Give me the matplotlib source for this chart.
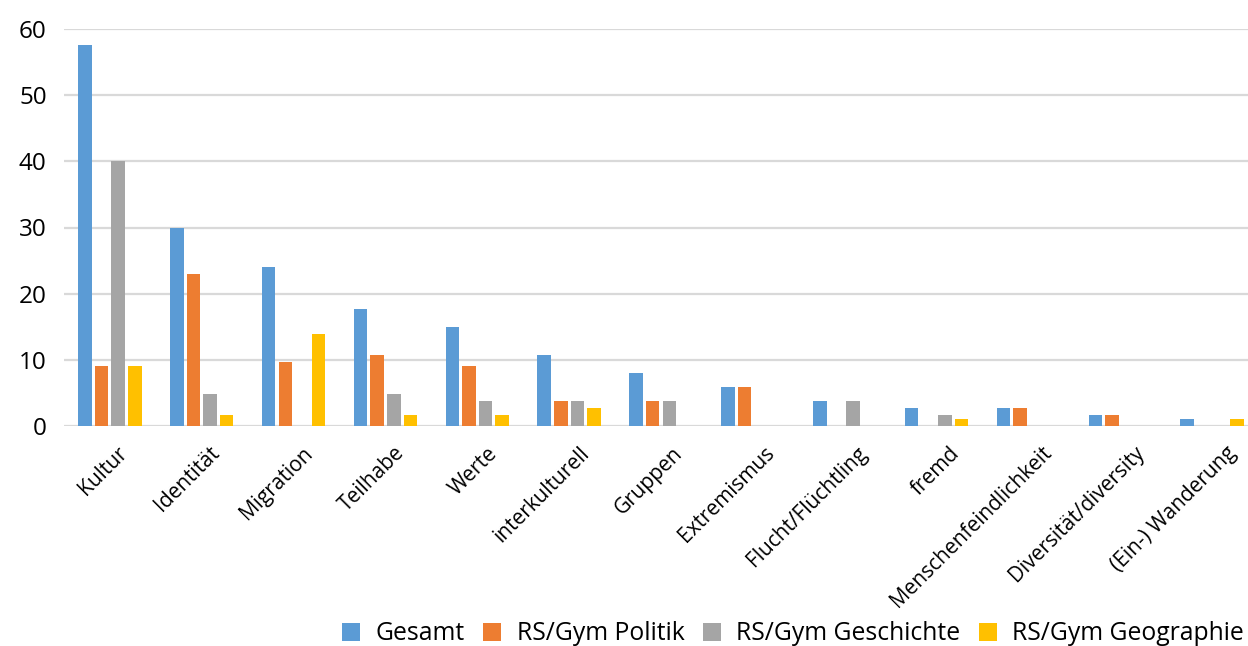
import matplotlib
matplotlib.use("Agg")
import matplotlib.pyplot as plt
import matplotlib.transforms as mtransforms
import numpy as np

plt.rcParams['font.family'] = ['Open Sans', 'DejaVu Sans']

categories = ["Kultur", "Identität", "Migration", "Teilhabe", "Werte", "interkulturell",
              "Gruppen", "Extremismus", "Flucht/Flüchtling", "fremd",
              "Menschenfeindlichkeit", "Diversität/diversity", "(Ein-) Wanderung"]
series_names = ["Gesamt", "RS/Gym Politik", "RS/Gym Geschichte", "RS/Gym Geographie"]
gesamt     = [57.6, 29.9, 24.0, 17.7, 15.0, 10.7, 8.0, 5.9, 3.8, 2.7, 2.7, 1.7, 1.1]
politik    = [9.1, 23.0, 9.7, 10.7, 9.1, 3.8, 3.8, 5.9, 0, 0, 2.7, 1.7, 0]
geschichte = [40.0, 4.8, 0, 4.8, 3.8, 3.8, 3.8, 0, 3.8, 1.7, 0, 0, 0]
geographie = [9.1, 1.7, 13.9, 1.7, 1.7, 2.7, 0, 0, 0, 1.1, 0, 0, 1.1]
yticks = [0, 10, 20, 30, 40, 50, 60]

colors = ["#5B9BD5", "#ED7D31", "#A5A5A5", "#FFC000"]
data = [gesamt, politik, geschichte, geographie]

W, H = 1248, 646
fig = plt.figure(figsize=(W / 100, H / 100), dpi=100)
ax = fig.add_axes([64 / W, (H - 426) / H, (1258 - 64) / W, (426 - 29) / H])

x = np.arange(len(categories))
step = 0.181
bw = 0.147
for i, (vals, c, name) in enumerate(zip(data, colors, series_names)):
    ax.bar(x + (i - 1.5) * step, vals, width=bw, color=c, linewidth=0,
           label=name, zorder=3)

ax.set_xlim(-0.5, len(categories) - 0.5)
ax.set_ylim(0, 60)
ax.set_yticks(yticks)
ax.set_yticklabels([str(t) for t in yticks], fontsize=17.5)
ax.yaxis.grid(True, color='#d9d9d9', linewidth=1.6, zorder=0)
ax.set_axisbelow(True)
for s in ax.spines.values():
    s.set_visible(False)
ax.tick_params(axis='both', length=0)
ax.tick_params(axis='y', pad=12.5)
ax.set_xticks(x)
ax.set_xticklabels(categories, rotation=45, ha='right', va='top',
                   rotation_mode='anchor', fontsize=15)
ax.tick_params(axis='x', pad=12)
n = len(categories)
for i, lab in enumerate(ax.get_xticklabels()):
    dx = (7 + 7 * i / (n - 1)) / 100.0
    lab.set_transform(lab.get_transform() +
                      mtransforms.ScaledTranslation(dx, 0, fig.dpi_scale_trans))

handles, labels = ax.get_legend_handles_labels()
leg = fig.legend(handles, labels, loc='center left', bbox_to_anchor=(342 / W, (H - 634) / H),
                 ncol=4, frameon=False, fontsize=17.8, handlelength=0.73, handleheight=0.73,
                 handletextpad=0.62, columnspacing=0.75, borderaxespad=0, borderpad=0)

fig.savefig("out.png", dpi=100)
